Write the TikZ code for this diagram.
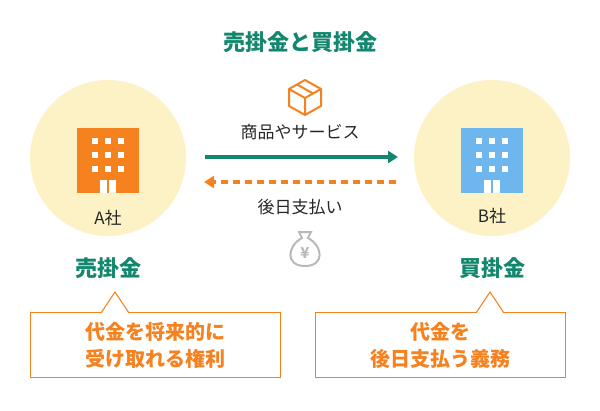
\documentclass[tikz,border=0pt]{standalone}
\usepackage{fontspec}
\setmainfont{Noto Sans CJK JP}
\usetikzlibrary{arrows.meta,positioning,calc}
\definecolor{MyTeal}{HTML}{13876E}
\definecolor{MyOrange}{HTML}{F5821F}
\definecolor{MyBlue}{HTML}{6DB6EE}
\definecolor{MyCream}{HTML}{FCF2C6}
\definecolor{MyGray}{HTML}{B9B9B9}
\tikzset{%
  company/.style={circle,fill=MyCream,minimum size=156pt,inner sep=0pt},
  title/.style={text=MyTeal,font=\bfseries\fontsize{22pt}{24pt}\selectfont},
  plain label/.style={font=\fontsize{17pt}{19pt}\selectfont,text=black!85},
  callout/.style={draw=MyOrange,fill=white,line width=1pt,minimum width=250pt,minimum height=65pt,
    align=center,text=MyOrange,font=\bfseries\fontsize{20pt}{27pt}\selectfont},
}
\newcommand{\building}[3]{% center x, center y, color
  \fill[#3] (#1-31,#2-32) rectangle (#1+31,#2+33);
  \foreach \i in {-1,0,1}
    \foreach \j in {0,1,2}
      \fill[white] (#1+\i*13-3,#2-22+\j*14) rectangle (#1+\i*13+3,#2-16+\j*14);
  \fill[white] (#1-8,#2+20) rectangle (#1-1,#2+33);
  \fill[white] (#1+1,#2+20) rectangle (#1+8,#2+33);
}
\begin{document}
\begin{tikzpicture}[x=1pt,y=-1pt]
 \useasboundingbox (0,0) rectangle (600,410);

 \node[title] (ttl) at (300,42) {売掛金と買掛金};

 \node[company] (ca) at (108,158) {};
 \node[company] (cb) at (492,158) {};
 \building{108}{160}{MyOrange}
 \building{492}{160}{MyBlue}
 \node[plain label] (na) at (108,218) {A社};
 \node[plain label] (nb) at (492,216) {B社};
 \node[title] (ua) at (108,268) {売掛金};
 \node[title] (ub) at (492,268) {買掛金};

 % flows
 \coordinate (g1) at (205,157);
 \coordinate (g2) at (398,157);
 \coordinate (p1) at (396,182);
 \coordinate (p2) at (204,182);
 \draw[MyTeal,line width=3.5pt,-{Triangle[length=10pt,width=12pt]}] (g1) -- (g2);
 \draw[MyOrange,line width=3.5pt,dash pattern=on 7pt off 5pt,-{Triangle[length=10pt,width=12pt]}] (p1) -- (p2);
 \node[plain label] (lg) at (300,132) {商品やサービス};
 \node[plain label] (lp) at (300,207) {後日支払い};

 % parcel
 \begin{scope}[shift={(305,97)},MyOrange,line width=2pt,line join=round]
  \draw (-16,-8) -- (0,-17) -- (16,-8) -- (16,9) -- (0,18) -- (-16,9) -- cycle;
  \draw (-16,-8) -- (0,1) -- (16,-8) (0,1) -- (0,18);
  \draw (-8,-12.5) -- (8,-3.5);
 \end{scope}
 % money bag
 \begin{scope}[shift={(305,250)}]
  \draw[MyGray,line width=2pt,fill=white] (-6,-18) -- (6,-18) -- (3,-12) .. controls (18,-4) and (20,16) .. (0,16)
    .. controls (-20,16) and (-18,-4) .. (-3,-12) -- cycle;
  \node[text=MyGray,font=\bfseries\fontsize{15pt}{15pt}\selectfont] (yen) at (0,3) {¥};
 \end{scope}

 % callouts
 \node[callout] (ra) at (155,345) {代金を将来的に\\受け取れる権利};
 \node[callout] (rb) at (440,345) {代金を\\後日支払う義務};
 \coordinate (ta) at (115,292);
 \coordinate (tb) at (490,292);
 \fill[white] ($(ta)+(-14,21.5)$) -- (ta) -- ($(ta)+(14,21.5)$) -- cycle;
 \draw[MyOrange,line width=1pt] ($(ta)+(-14,21)$) -- (ta) -- ($(ta)+(14,21)$);
 \fill[white] ($(tb)+(-14,21.5)$) -- (tb) -- ($(tb)+(14,21.5)$) -- cycle;
 \draw[MyOrange,line width=1pt] ($(tb)+(-14,21)$) -- (tb) -- ($(tb)+(14,21)$);
\end{tikzpicture}
\end{document}
